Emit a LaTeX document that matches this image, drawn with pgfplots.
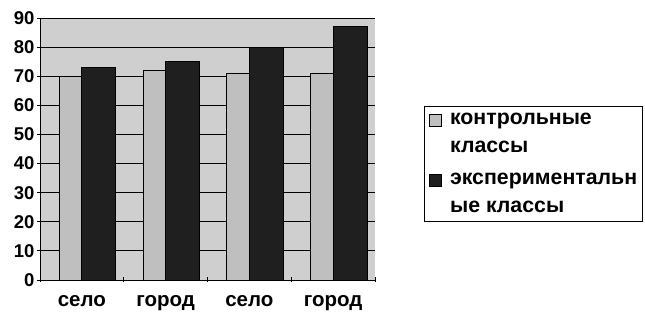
\documentclass[border=0pt]{standalone}
\usepackage{pgfplots}
\pgfplotsset{compat=1.18}
\usepackage{fontspec}
\setmainfont{Liberation Sans}
\begin{document}
\begin{tikzpicture}
\begin{axis}[
  scale only axis,
  width=335pt, height=262pt,
  at={(0,0)}, anchor=south west,
  ymin=0, ymax=90,
  ytick={0,10,...,90},
  xmin=-0.5, xmax=3.5,
  xtick={0,1,2,3},
  xticklabels={село,город,село,город},
  minor xtick={-0.5,0.5,1.5,2.5,3.5},
  major x tick style={draw=none},
  minor tick length=5pt,
  major tick length=6pt,
  tick align=outside,
  tick style={black, thick},
  axis lines=left,
  axis line style={black, thick, -},
  axis background/.style={fill=gray!38},
  ymajorgrids,
  grid style={black, thick},
  yticklabel style={font=\fontsize{18.5}{20}\selectfont\bfseries, xshift=1pt},
  xticklabel style={font=\fontsize{20.5}{22}\selectfont\bfseries, yshift=-9pt},
  /pgf/number format/assume math mode=true,
  legend style={at={(1.146,0.443)}, anchor=west, draw=black, thin,
    font=\fontsize{21.3}{28}\selectfont\bfseries, cells={align=left, anchor=west},
    inner xsep=3pt, inner ysep=5pt, row sep=15pt},
  legend image code/.code={\draw[#1, draw=black] (2pt,8pt) rectangle (14pt,20pt);
    \path[draw=none, fill=none] (0pt,-20pt) -- (21pt,20pt);},
  clip=false,
]
\addplot[ybar, bar width=23pt, bar shift=-11pt, fill=gray!50, draw=black, thick]
  coordinates {(0,70) (1,72) (2,71) (3,71)};
\addplot[ybar, bar width=34pt, bar shift=17pt, fill=black!88, draw=black, thick]
  coordinates {(0,73) (1,75) (2,80) (3,87)};
\legend{контрольные\\классы, экспериментальн\\ые классы}
\coordinate (LL) at (rel axis cs:0,0);
\coordinate (UR) at (rel axis cs:1,1);
\end{axis}
\pgfresetboundingbox
\path[use as bounding box] ([xshift=-40pt,yshift=-35pt]LL) rectangle ([xshift=270pt,yshift=18pt]UR);
\end{tikzpicture}
\end{document}
